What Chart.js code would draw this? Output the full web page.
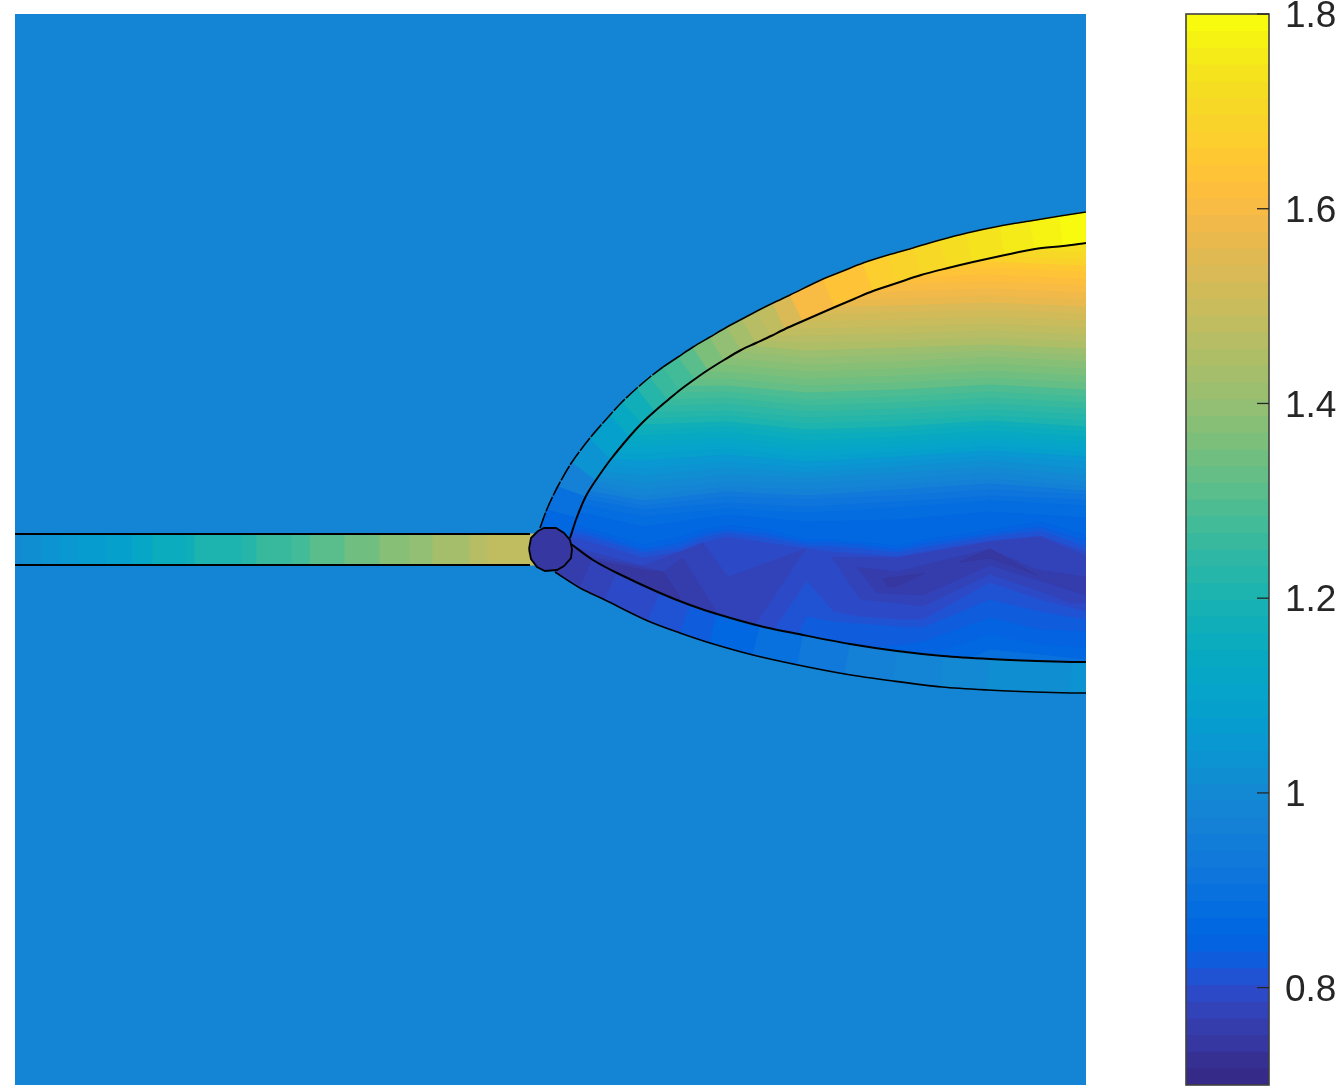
<!DOCTYPE html>
<html><head><meta charset="utf-8">
<script src="https://cdn.jsdelivr.net/npm/chart.js@4"></script>
<style>html,body{margin:0;padding:0;background:#fff}canvas{position:absolute;left:0;top:0}</style>
</head><body>
<canvas id="field" width="1337" height="1087"></canvas>
<canvas id="bar" width="1337" height="1087"></canvas>
<script>
const parula=[[.2081,.1663,.5292],[.2116,.1898,.5777],[.2123,.2138,.6270],[.2081,.2386,.6771],[.1959,.2645,.7279],[.1707,.2919,.7792],[.1253,.3242,.8303],[.0591,.3598,.8683],[.0117,.3875,.8820],[.0060,.4086,.8828],[.0165,.4266,.8786],[.0329,.4430,.8720],[.0498,.4586,.8641],[.0629,.4737,.8554],[.0723,.4887,.8467],[.0779,.5040,.8384],[.0793,.5200,.8312],[.0749,.5375,.8263],[.0641,.5570,.8240],[.0488,.5772,.8228],[.0343,.5966,.8199],[.0265,.6137,.8135],[.0239,.6287,.8038],[.0231,.6418,.7913],[.0228,.6535,.7768],[.0267,.6642,.7607],[.0384,.6743,.7436],[.0590,.6838,.7254],[.0843,.6928,.7062],[.1133,.7015,.6859],[.1453,.7098,.6646],[.1801,.7177,.6424],[.2178,.7250,.6193],[.2586,.7317,.5954],[.3022,.7376,.5712],[.3482,.7424,.5473],[.3953,.7459,.5244],[.4420,.7481,.5033],[.4871,.7491,.4840],[.5300,.7491,.4661],[.5709,.7485,.4494],[.6099,.7473,.4337],[.6473,.7456,.4188],[.6834,.7435,.4044],[.7184,.7411,.3905],[.7525,.7384,.3768],[.7858,.7356,.3633],[.8185,.7327,.3498],[.8507,.7299,.3360],[.8824,.7274,.3217],[.9139,.7258,.3063],[.9450,.7261,.2886],[.9739,.7314,.2666],[.9938,.7455,.2403],[.9990,.7653,.2164],[.9955,.7861,.1967],[.9880,.8066,.1794],[.9789,.8271,.1633],[.9697,.8481,.1475],[.9626,.8705,.1309],[.9589,.8949,.1132],[.9598,.9218,.0948],[.9661,.9514,.0755],[.9763,.9831,.0538]];
const colorMin=0.7, colorMax=1.8;
const tickValues=[0.8,1,1.2,1.4,1.6,1.8];
const fieldValue=0.99;
const domainX=[15,1086], domainY=[14,1085];

// Contours of the wake interior: level value, then position at each station
const upperX=[560,587,643,727,807,897,990,1086];
const upperLevels=[1.78,1.74,1.72,1.70,1.68,1.66,1.64,1.62,1.60,1.58,1.56,1.54,1.52,1.50,1.48,1.46,1.44,1.42,1.40,1.38,1.36,1.34,1.32,1.30,1.28,1.26,1.24,1.22,1.20,1.18,1.16,1.14,1.12,1.10,1.08,1.06,1.04,1.02,1.00,0.98,0.96,0.94,0.92,0.90,0.88,0.86];
const upperY=[
[200,200,200,200,200,200,200,200],
[239,239,239,238,237,235,232,236],[249,249,249,248,247,245,242,246],[256,256,256,255,254,252,249,253],[263,263,263,262,261,259,256,260],
[269,269,269,268,267,265,262,266],[275,275,275,274,273,271,268,272],[282,282,282,281,280,278,275,279],[289,289,289,288,287,285,282,286],
[296,296,296,295,294,292,289,293],[303,303,303,302,301,299,296,300],[310,310,310,309,308,306,303,307],[317,317,317,316,315,313,310,314],
[324,324,324,323,322,320,317,321],[331,331,331,330,329,327,324,328],[338,338,338,337,336,334,331,335],[345,345,345,340,343,341,338,342],
[345,345,345,344,351,348,345,349],[352,352,352,351,358,355,351,356],[359,359,359,358,365,362,357,362],[366,366,366,365,372,369,364,369],
[373,373,373,372,379,376,371,376],[380,380,380,379,386,383,378,383],[387,387,387,386,393,390,385,390],[394,394,394,392,400,397,392,397],
[400,400,401,398,406,403,398,403],[406,406,407,404,412,409,404,409],[412,412,413,411,418,415,410,415],[418,418,419,416,424,421,416,421],
[424,424,425,422,430,427,421,427],[430,430,431,427,435,432,426,432],[436,436,436,432,441,437,431,437],[441,441,441,438,446,442,436,442],
[447,447,447,443,451,447,441,447],[452,452,454,449,457,452,446,452],[458,458,461,455,462,457,451,457],[464,464,469,462,468,462,456,462],
[470,470,476,468,473,467,461,469],[476,476,483,475,478,473,467,476],[481,481,490,482,484,479,473,482],[486,486,496,487,490,485,479,487],
[491,491,501,492,496,490,484,491],[495,495,506,497,500,496,490,495],[500,500,510,503,507,502,496,500],[506,506,517,509,513,508,501,506],
[512,514,527,515,522,520,512,518]
];
const lowerX=[560,587,643,680,703,727,767,807,833,860,897,923,990,1040,1086];
const fallLevels=[0.84,0.825,0.81,0.795];
const fallY=[
[522,528,545,537,530,525,530,540,540,542,546,540,530,522,535],
[526,532,550,543,534,530,534,543,543,545,550,544,534,527,541],
[530,536,553,548,538,533,538,546,547,549,553,548,537,531,547],
[535,541,558,552,543,537,543,549,552,554,557,552,541,536,552]
];
const riseLevels=[0.795,0.815,0.83,0.85,0.87,0.90];
const riseY=[
[700,700,700,700,700,667,608,548,575,600,604,607,575,592,610],
[700,700,700,700,700,700,640,582,612,617,620,620,583,600,612],
[700,700,700,700,700,700,700,617,622,624,627,628,600,612,620],
[700,700,700,700,700,700,700,650,648,648,646,642,618,630,632],
[700,700,700,700,700,700,700,670,668,665,662,658,635,645,648],
[700,700,700,700,700,700,700,700,700,695,685,680,650,655,660]
];
// Closed low-value pockets
const pocketLevels=[0.78,0.76,0.745,0.78,0.76,0.745,0.745];
const pocketX=[
[565,643,703,728,808,757,757,565],[565,643,663,683,717,717,565],[572,643,663,680,660,565],
[832,897,990,1040,1086,1086,1066,990,923,862],[857,897,990,1037,1086,1086,990,923,877],[883,925,897,888],[960,990,1037,990]
];
const pocketY=[
[545,566,543,577,548,623,640,640],[552,567,572,558,613,640,640],[556,570,572,597,640,600],
[557,558,542,537,556,603,603,575,607,602],[567,572,549,570,577,595,565,595,593],[579,573,586,587],[562,549,575,558]
];
// Channel on the left
const channelX=[15,23,42,60,78,107,133,153,185,195,242,257,292,310,345,380,410,433,470,488,540];
const channelTop=534, channelBottom=565, channelEnd=530;
const channelValues=[1.0,1.01,1.03,1.05,1.07,1.09,1.12,1.16,1.18,1.21,1.23,1.25,1.28,1.31,1.34,1.38,1.40,1.43,1.46,1.49];
// Upper layer
const upperOuterX=[540,547,558,572,590,610,622,637,650,663,678,693,710,727,742,757,773,790,823,843,863,888,913,940,967,1000,1030,1060,1086];
const upperOuterY=[528,509,486,462,438,415,402,388,377,367,357,347,337,327,319,311,303,295,279,271,263,255,248,240,233,226,221,216,212];
const upperInnerX=[570,577,586,596,611,630,642,655,668,680,695,708,724,741,756,771,785,803,835,854,873,897,921,948,973,1005,1035,1063,1086];
const upperInnerY=[538,517,496,480,459,436,423,411,400,390,379,370,360,350,343,336,329,321,307,299,291,283,275,268,262,255,249,246,243];
const upperLayerValues=[0.86,0.90,0.96,1.03,1.09,1.13,1.18,1.22,1.25,1.28,1.31,1.37,1.40,1.43,1.46,1.49,1.53,1.6,1.63,1.64,1.67,1.69,1.71,1.72,1.74,1.76,1.78,1.8];
// Lower layer
const lowerOuterX=[555,580,605,648,680,710,753,798,845,893,942,988,1035,1070,1086];
const lowerOuterY=[572,588,600,621,633,643,655,665,674,681,687,690,692,693,693];
const lowerInnerX=[571,593,617,660,690,717,760,803,850,897,943,990,1037,1072,1086];
const lowerInnerY=[544,560,573,593,605,614,626,635,644,651,656,659,661,662,662];
const lowerLayerValues=[0.76,0.78,0.79,0.81,0.83,0.86,0.89,0.93,0.96,0.98,1.0,1.01,1.02,1.04];
// Throat disc
const discX=[529,531,538,544,556,564,570,572,571,564,557,545,537,531];
const discY=[549,538,531,528,528,533,540,549,558,566,570,571,567,559];
const discValue=0.74;

function colorOf(v){
  let i=Math.floor((v-colorMin)/(colorMax-colorMin)*parula.length);
  i=Math.max(0,Math.min(parula.length-1,i));
  const c=parula[i];
  return `rgb(${Math.round(c[0]*255)},${Math.round(c[1]*255)},${Math.round(c[2]*255)})`;
}
const zip=(xs,ys)=>xs.map((x,i)=>({x,y:ys[i]}));
function patch(points,color){
  return {type:'scatter',showLine:true,data:points.concat([points[0]]),fill:'shape',backgroundColor:color,borderColor:color,borderWidth:1,pointRadius:0,tension:0};
}
function stroke(xs,ys,w,dash){
  return {type:'scatter',showLine:true,data:zip(xs,ys),fill:false,borderColor:'#000',borderWidth:w,pointRadius:0,tension:0.3,borderDash:dash||[]};
}
const layers=[];
layers.push(patch([{x:domainX[0],y:domainY[0]},{x:domainX[1],y:domainY[0]},{x:domainX[1],y:domainY[1]},{x:domainX[0],y:domainY[1]}],colorOf(fieldValue)));
const floorY=700;
function band(xs,ys,v){
  layers.push(patch(zip(xs,ys).concat([{x:xs[xs.length-1],y:floorY},{x:xs[0],y:floorY}]),colorOf(v)));
}
upperLevels.forEach((v,i)=>band(upperX,upperY[i],v));
fallLevels.forEach((v,i)=>band(lowerX,fallY[i],v));
pocketLevels.forEach((v,i)=>layers.push(patch(zip(pocketX[i],pocketY[i]),colorOf(v))));
riseLevels.forEach((v,i)=>band(lowerX,riseY[i],v));
const fc=colorOf(fieldValue);
layers.push(patch(zip(upperOuterX,upperOuterY).concat([{x:domainX[1],y:100},{x:upperOuterX[0],y:100}]),fc));
layers.push(patch(zip(lowerOuterX,lowerOuterY).concat([{x:domainX[1],y:floorY+20},{x:lowerOuterX[0],y:floorY+20}]),fc));
channelValues.forEach((v,i)=>layers.push(patch([{x:channelX[i],y:channelTop},{x:channelX[i+1],y:channelTop},{x:channelX[i+1],y:channelBottom},{x:channelX[i],y:channelBottom}],colorOf(v))));
upperLayerValues.forEach((v,i)=>layers.push(patch([{x:upperOuterX[i],y:upperOuterY[i]},{x:upperOuterX[i+1],y:upperOuterY[i+1]},{x:upperInnerX[i+1],y:upperInnerY[i+1]},{x:upperInnerX[i],y:upperInnerY[i]}],colorOf(v))));
lowerLayerValues.forEach((v,i)=>layers.push(patch([{x:lowerOuterX[i],y:lowerOuterY[i]},{x:lowerOuterX[i+1],y:lowerOuterY[i+1]},{x:lowerInnerX[i+1],y:lowerInnerY[i+1]},{x:lowerInnerX[i],y:lowerInnerY[i]}],colorOf(v))));
// outlines: the upper outer line is broken near the throat
const splitAt=10;
layers.push(stroke(upperOuterX.slice(0,splitAt),upperOuterY.slice(0,splitAt),1.6,[16,1.5]));
layers.push(stroke(upperOuterX.slice(splitAt-1),upperOuterY.slice(splitAt-1),1.6));
layers.push(stroke(upperInnerX,upperInnerY,2));
layers.push(stroke(lowerOuterX,lowerOuterY,1.6));
layers.push(stroke(lowerInnerX,lowerInnerY,2));
layers.push(stroke([channelX[0],channelEnd],[channelTop,channelTop],2));
layers.push(stroke([channelX[0],channelEnd],[channelBottom,channelBottom],2));
const disc=patch(zip(discX,discY),colorOf(discValue));
disc.borderColor='#000';disc.borderWidth=1.8;
layers.push(disc);

new Chart(document.getElementById('field'),{
  data:{datasets:layers.reverse()},
  options:{responsive:false,animation:false,events:[],
    layout:{autoPadding:false,padding:{left:15,top:14,right:251,bottom:2}},
    plugins:{legend:{display:false},tooltip:{enabled:false}},
    scales:{
      x:{type:'linear',min:domainX[0],max:domainX[1],display:false},
      y:{type:'linear',min:domainY[0],max:domainY[1],reverse:true,display:false}
    }}
});

const barSets=parula.map((c,i)=>{
  const step=(colorMax-colorMin)/parula.length;
  const lo=colorMin+i*step;
  return {data:[[lo,lo+step*1.08]],backgroundColor:colorOf(lo+step/2),borderWidth:0,barPercentage:1,categoryPercentage:1,grouped:false};
}).reverse();
const barFrame={id:'barFrame',afterDraw(ch){
  const {ctx,chartArea:a,scales:{y}}=ch;
  ctx.save();
  ctx.strokeStyle='#404040';ctx.lineWidth=1.6;
  ctx.strokeRect(a.left,a.top,a.right-a.left,a.bottom-a.top);
  ctx.lineWidth=1.3;ctx.strokeStyle='#262626';
  tickValues.forEach(t=>{const p=y.getPixelForValue(t);ctx.beginPath();ctx.moveTo(a.right-12,p);ctx.lineTo(a.right,p);ctx.stroke();});
  ctx.restore();
}};
new Chart(document.getElementById('bar'),{
  type:'bar',
  data:{labels:[''],datasets:barSets},
  plugins:[barFrame],
  options:{responsive:false,animation:false,events:[],
    layout:{autoPadding:false,padding:{left:1186,top:14,right:0,bottom:2}},
    plugins:{legend:{display:false},tooltip:{enabled:false}},
    scales:{
      x:{type:'category',display:false},
      y:{type:'linear',position:'right',min:colorMin,max:colorMax,
        grid:{display:false,drawTicks:false},border:{display:false},
        afterBuildTicks(s){s.ticks=tickValues.map(value=>({value}));},
        afterFit(s){s.width=68;s.paddingTop=0;s.paddingBottom=0;},
        ticks:{padding:16,labelOffset:3,color:'#262626',font:{family:'"Liberation Sans"',size:37},callback:v=>String(v),autoSkip:false,maxRotation:0}
      }
    }}
});
</script>
</body></html>
